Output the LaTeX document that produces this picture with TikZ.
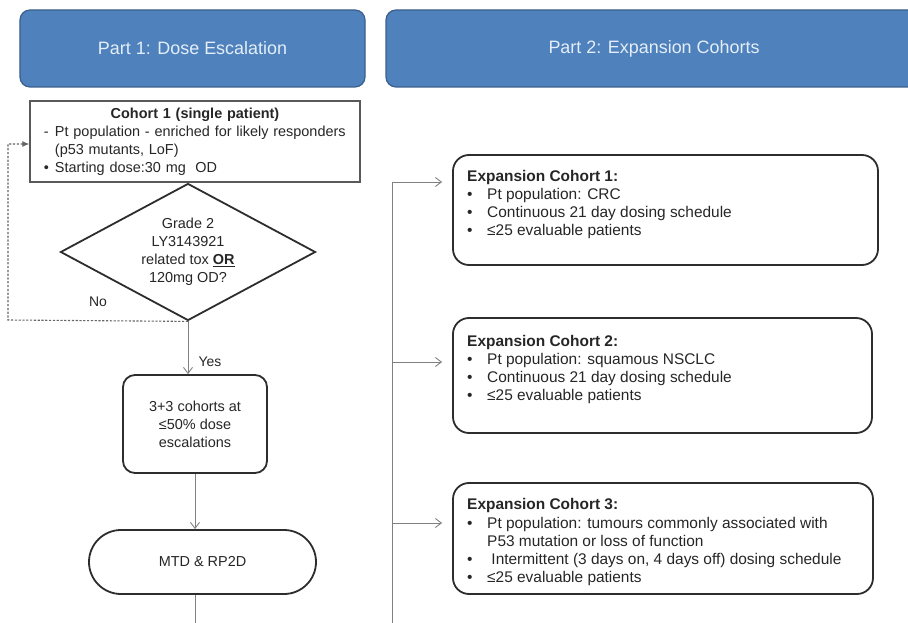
\documentclass[tikz,border=0pt]{standalone}
\usepackage{fontspec}
\setmainfont{Liberation Sans}
\usetikzlibrary{shapes.geometric,shapes.misc,arrows.meta}
\definecolor{hblue}{RGB}{79,129,189}
\definecolor{hborder}{RGB}{58,95,140}
\definecolor{htext}{RGB}{228,238,248}
\definecolor{ink}{RGB}{38,38,38}
\definecolor{conn}{RGB}{128,128,128}
\definecolor{frame}{RGB}{45,45,45}
\newcommand\expbullet{\makebox[20bp][l]{•}}
\begin{document}
\begin{tikzpicture}[x=1bp,y=-1bp,
  every node/.style={font=\fontsize{14.5}{18}\selectfont, text=ink, inner sep=0pt},
  header/.style={draw=hborder, line width=1.2bp, fill=hblue, rounded corners=10bp, minimum height=77bp, text=htext, font=\fontsize{18}{22}\selectfont},
  c1box/.style={draw=black!65, line width=1.2bp, minimum width=330bp, minimum height=81bp, text width=302bp, align=left, font=\fontsize{14.5}{18}\selectfont},
  decision/.style={diamond, draw=frame, line width=1.8bp, minimum width=255bp, minimum height=137bp, align=center, aspect=1.86},
  procbox/.style={draw=frame, line width=1.8bp, rounded corners=12bp, align=center},
  termbox/.style={rounded rectangle, draw=frame, line width=1.8bp, minimum width=227bp, minimum height=64bp},
  expbox/.style={draw=frame, line width=1.8bp, rounded corners=16bp},
  exptext/.style={anchor=north west, align=left, font=\fontsize{15.5}{18}\selectfont},
  arr/.style={draw=conn, line width=0.9bp, -{Straight Barb[length=6bp,width=9bp]}},
  conline/.style={draw=conn, line width=0.9bp},
  noback/.style={draw=black!60, line width=1.1bp, dash pattern=on 2.2bp off 1.6bp, -{Latex[length=7bp,width=6bp]}},
  lbl/.style={font=\fontsize{14}{16}\selectfont}
]
\useasboundingbox (0,0) rectangle (908,623);
\clip (0,0) rectangle (908,623);

% headers
\node[header, minimum width=345bp] (h1) at (192.5,48.5) {\raisebox{-1.5bp}{Part 1: Dose Escalation}};
\node[header, minimum width=536bp] (h2) at (654,48.5) {\raisebox{-1.5bp}{Part 2: Expansion Cohorts}};

% part 1
\node[c1box] (c1) at (195,141.5) {\makebox[302bp]{\bfseries Cohort 1 (single patient)}\\
  \makebox[11bp][l]{-}Pt population - enriched for likely responders\\
  \hspace*{11bp}(p53 mutants, LoF)\\
  \makebox[11bp][l]{•}Starting dose:30 mg\ \ OD};
\node[decision] (dia) at (188,252) {Grade 2\\LY3143921\\related tox \textbf{\underline{OR}}\\120mg OD?};
\node[procbox, minimum width=144bp, minimum height=98bp] (b33) at (195,424) {3+3 cohorts at\\≤50\% dose\\escalations};
\node[termbox] (mtd) at (202.5,562) {MTD \& RP2D};
\node[lbl] (no) at (98,302) {No};
\node[lbl] (yes) at (210,362) {Yes};

% part 2
\node[expbox, minimum width=425bp, minimum height=110bp] (e1) at (665.5,210) {};
\node[expbox, minimum width=419bp, minimum height=115bp] (e2) at (662.5,375.5) {};
\node[expbox, minimum width=420bp, minimum height=111bp] (e3) at (663,538.5) {};
\node[exptext] (e1t) at (467,170.5) {\textbf{Expansion Cohort 1:}\\
  \expbullet Pt population: CRC\\
  \expbullet Continuous 21 day dosing schedule\\
  \expbullet ≤25 evaluable patients};
\node[exptext] (e2t) at (467,335.5) {\textbf{Expansion Cohort 2:}\\
  \expbullet Pt population: squamous NSCLC\\
  \expbullet Continuous 21 day dosing schedule\\
  \expbullet ≤25 evaluable patients};
\node[exptext, font=\fontsize{15.5}{18.3}\selectfont] (e3t) at (467,498.5) {\textbf{Expansion Cohort 3:}\\
  \expbullet Pt population: tumours commonly associated with\\
  \hspace*{20bp}P53 mutation or loss of function\\
  \expbullet\ Intermittent (3 days on, 4 days off) dosing schedule\\
  \expbullet ≤25 evaluable patients};

% connectors part 1
\coordinate (nl) at (8,320);
\coordinate (nu) at (8,144);
\draw[noback] (dia.south) -- (nl) -- (nu) -- (nu -| c1.west);
\draw[arr] (dia.south) -- (dia.south |- b33.north);
\draw[arr] (b33.south) -- (b33.south |- mtd.north);
\coordinate (mb) at (195,623);
\draw[conline] (mb |- mtd.south) -- (mb);

% connectors part 2
\coordinate (t1) at (392,182);
\coordinate (t2) at (392,362);
\coordinate (t3) at (392,523);
\coordinate (tb) at (392,623);
\draw[conline] (t1) -- (tb);
\draw[arr, shorten >=10bp] (t1) -- (t1 -| e1.west);
\draw[arr, shorten >=10bp] (t2) -- (t2 -| e2.west);
\draw[arr, shorten >=10bp] (t3) -- (t3 -| e3.west);
\end{tikzpicture}
\end{document}
